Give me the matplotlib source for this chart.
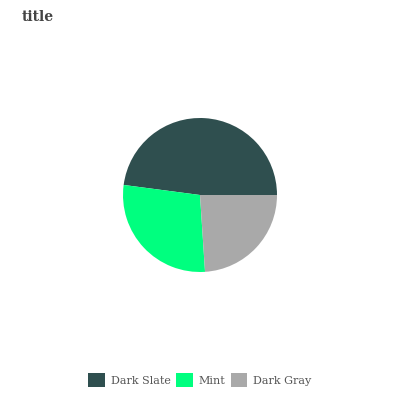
import matplotlib.pyplot as plt
from matplotlib.patches import Patch

labels = ['Dark Slate', 'Mint', 'Dark Gray']
values = [46, 27, 23]
colors = ['#2F4F4F', '#00FF7F', '#A9A9A9']

plt.rcParams['font.family'] = 'DejaVu Serif'

fig = plt.figure(figsize=(4, 4), dpi=100)
ax = fig.add_axes([123/400, 128/400, 154/400, 154/400])
ax.pie(values, colors=colors, startangle=0, counterclock=True, radius=1)
ax.set_xlim(-1, 1)
ax.set_ylim(-1, 1)
ax.set_aspect('equal')
ax.axis('off')

fig.text(22/400, 1 - 17/400, 'title', fontsize=10, fontweight='bold', color='#444444', va='center')

handles = [Patch(facecolor=c, edgecolor='none') for c in colors]
fig.legend(handles, labels, loc='center', bbox_to_anchor=(0.5, 1 - 380/400), ncol=3,
           frameon=False, fontsize=8, handlelength=1.5, handleheight=1.5,
           handletextpad=0.55, columnspacing=0.45, labelcolor='#555555')

fig.savefig('out.png', dpi=100)
